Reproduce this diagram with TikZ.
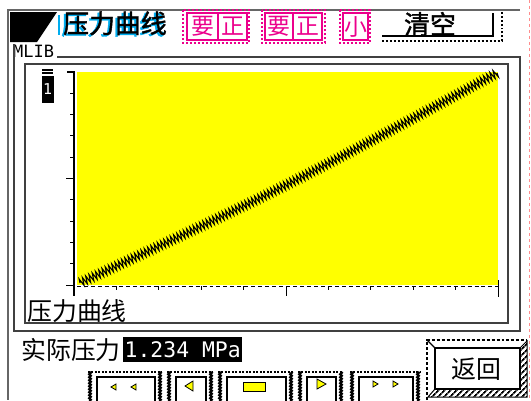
\documentclass[tikz,border=0pt]{standalone}
\usepackage{fontspec}
\newfontfamily\cjk{Noto Sans CJK SC}
\newfontfamily\cjkb[FakeBold=1.5]{Noto Sans CJK SC}
\newfontfamily\mono{DejaVu Sans Mono}
\usetikzlibrary{decorations.pathmorphing,patterns.meta}
\definecolor{plotyellow}{RGB}{255,255,0}
\tikzset{
  gframe/.style={draw=black!60, line width=1.8pt},
  frame/.style={draw=black!75, line width=1.3pt},
  cjktext/.style={inner sep=0pt, font=\cjk\fontsize{25}{25}\selectfont},
  titletext/.style={inner sep=0pt, font=\cjkb\fontsize{26}{26}\selectfont},
  magtext/.style={inner sep=0pt, text=magenta, font=\cjk\fontsize{23}{23}\selectfont},
  mag/.style={draw=magenta, line width=1.2pt},
  magdash/.style={draw=magenta, line width=1.2pt, dash pattern=on 2pt off 2pt},
  jag/.style={line width=2.2pt, decorate, decoration={zigzag, amplitude=0.8pt, segment length=3pt}},
  icon/.style={fill=plotyellow, draw=black, line width=0.8pt},
  tick/.style={line width=1pt}
}
\begin{document}
\begin{tikzpicture}[x=1bp,y=-1bp]
\useasboundingbox (0,0) rectangle (531,400);
% outer frame and red guide
\draw[gframe] (7,10) -- (520,10);
\draw[gframe] (8,10) -- (8,400);
\draw[red!45, line width=1pt, dash pattern=on 3pt off 3pt] (529,0) -- (529,400);
% title
\fill (10,12) -- (57,12) -- (37,42) -- (10,42) -- cycle;
\draw[cyan, line width=1.5pt] (59,15) -- (59,35);
\node[titletext, anchor=west] (title) at (63,24) {\makebox[0pt][l]{\hspace{-2bp}\raisebox{-1.5bp}{\color{cyan}压力曲线}}压力曲线};
% magenta buttons
\draw[magdash] (183,10) rectangle (249,43);
\draw[mag] (187,13) rectangle (218,40);
\draw[mag] (218,13) rectangle (247,40);
\node[magtext] (ma1) at (202.5,26.5) {要};
\node[magtext] (ma2) at (232.5,26.5) {正};
\draw[magdash] (262,10) rectangle (325,43);
\draw[mag] (265,13) rectangle (293,40);
\draw[mag] (293,13) rectangle (322,40);
\node[magtext] (mb1) at (279,26.5) {要};
\node[magtext] (mb2) at (307.5,26.5) {正};
\draw[magdash] (340,10) rectangle (370,43);
\draw[mag] (343,13) rectangle (368,40);
\node[magtext] (mc1) at (355.5,26.5) {小};
% clear button
\node[inner sep=0pt, font=\cjkb\fontsize{26}{26}\selectfont] (clr) at (430,24) {清空};
\draw[line width=1.2pt] (382,36) -- (493,36) -- (493,13);
\draw[line width=1.2pt, dash pattern=on 2pt off 2pt] (382,41) -- (502,41) -- (502,12);
% panel
\node[inner sep=0pt, anchor=base west, font=\mono\fontsize{17}{17}\selectfont] (mlib) at (13,57) {MLIB};
\draw[frame] (14,44) -- (14,331) -- (520,331) -- (520,57) -- (57,57);
\draw[frame] (25,64) rectangle (508,323);
% plot area
\fill[plotyellow] (77,72) rectangle (498,285);
% y label
\fill (42,68.5) rectangle (53,70.5);
\fill (42,72) rectangle (53,74);
\node[fill=black, text=white, font=\mono\fontsize{15}{15}\selectfont, minimum width=12bp, minimum height=27bp, inner sep=0pt] (ylab) at (47.5,89) {1};
% y axis
\draw[line width=1.2pt] (67,72) -- (74,72) -- (74,296);
\foreach \k in {1,2,3,4,6,7,8,9} \draw[tick] (70,72+21.3*\k) -- (74,72+21.3*\k);
\draw[tick] (66,178.5) -- (74,178.5);
\draw[tick] (66,285) -- (74,285);
% x axis
\draw[line width=1pt, dash pattern=on 4pt off 3pt] (77,286) -- (498,286);
\foreach \k in {1,2,3,4,6,7,8,9} \draw[tick] (74+42.4*\k,286) -- (74+42.4*\k,290);
\draw[tick] (286,286) -- (286,296);
\draw[tick] (498,280) -- (498,297);
% curve
\coordinate (cstart) at (80,283);
\coordinate (cend) at (497,73);
\draw[line width=1.1pt, decorate, decoration={zigzag, amplitude=4pt, segment length=3.6pt}] (cstart) .. controls (290,185) .. (cend);
% labels
\node[cjktext, anchor=west] (plotlabel) at (27,311) {压力曲线};
\node[cjktext, anchor=west] (actual) at (21,350) {实际压力};
\node[fill=black, text=white, font=\mono\fontsize{21.5}{21.5}\selectfont, anchor=north west, minimum width=119bp, minimum height=25bp, inner sep=0pt] (val) at (123,337) {1.234 MPa};
% navigation buttons
\foreach \L/\R in {88/162,167/213,218/293,298/343,350/420} {
  \draw[line width=1.2pt, dash pattern=on 2pt off 1.5pt] (\L,372) -- (\R,372);
  \draw[jag] (\L+2,372) -- (\L+2,401);
  \draw[line width=1.2pt] (\L+9,401) -- (\L+9,377) -- (\R-7,377) -- (\R-7,401);
  \draw[jag] (\R-2,372) -- (\R-2,401);
}
\draw[icon] (111,387) -- (116,384) -- (116,390) -- cycle;
\draw[icon] (131,387) -- (136,384) -- (136,390) -- cycle;
\draw[icon] (185,386) -- (193,381) -- (193,391) -- cycle;
\draw[icon] (243,382) rectangle (265,391);
\draw[icon] (317,379) -- (326,384) -- (317,389) -- cycle;
\draw[icon] (373,381) -- (378,384) -- (373,387) -- cycle;
\draw[icon] (393,381) -- (398,384) -- (393,387) -- cycle;
% return button
\draw[line width=1.2pt, dash pattern=on 3pt off 2pt] (427,400) -- (427,340) -- (527,340);
\draw[line width=1.2pt] (427,340) -- (435,348);
\fill[pattern={Lines[angle=45,distance=4pt,line width=1.8pt]}] (520,348) -- (527,341) -- (527,397) -- (428,397) -- (435,389) -- (520,389) -- cycle;
\draw[line width=1pt] (520,348) -- (527,341) -- (527,397) -- (428,397) -- (435,389);
\draw[line width=1.3pt] (435,348) rectangle (520,389);
\node[cjktext] (ret) at (476,369) {返回};
\end{tikzpicture}
\end{document}
